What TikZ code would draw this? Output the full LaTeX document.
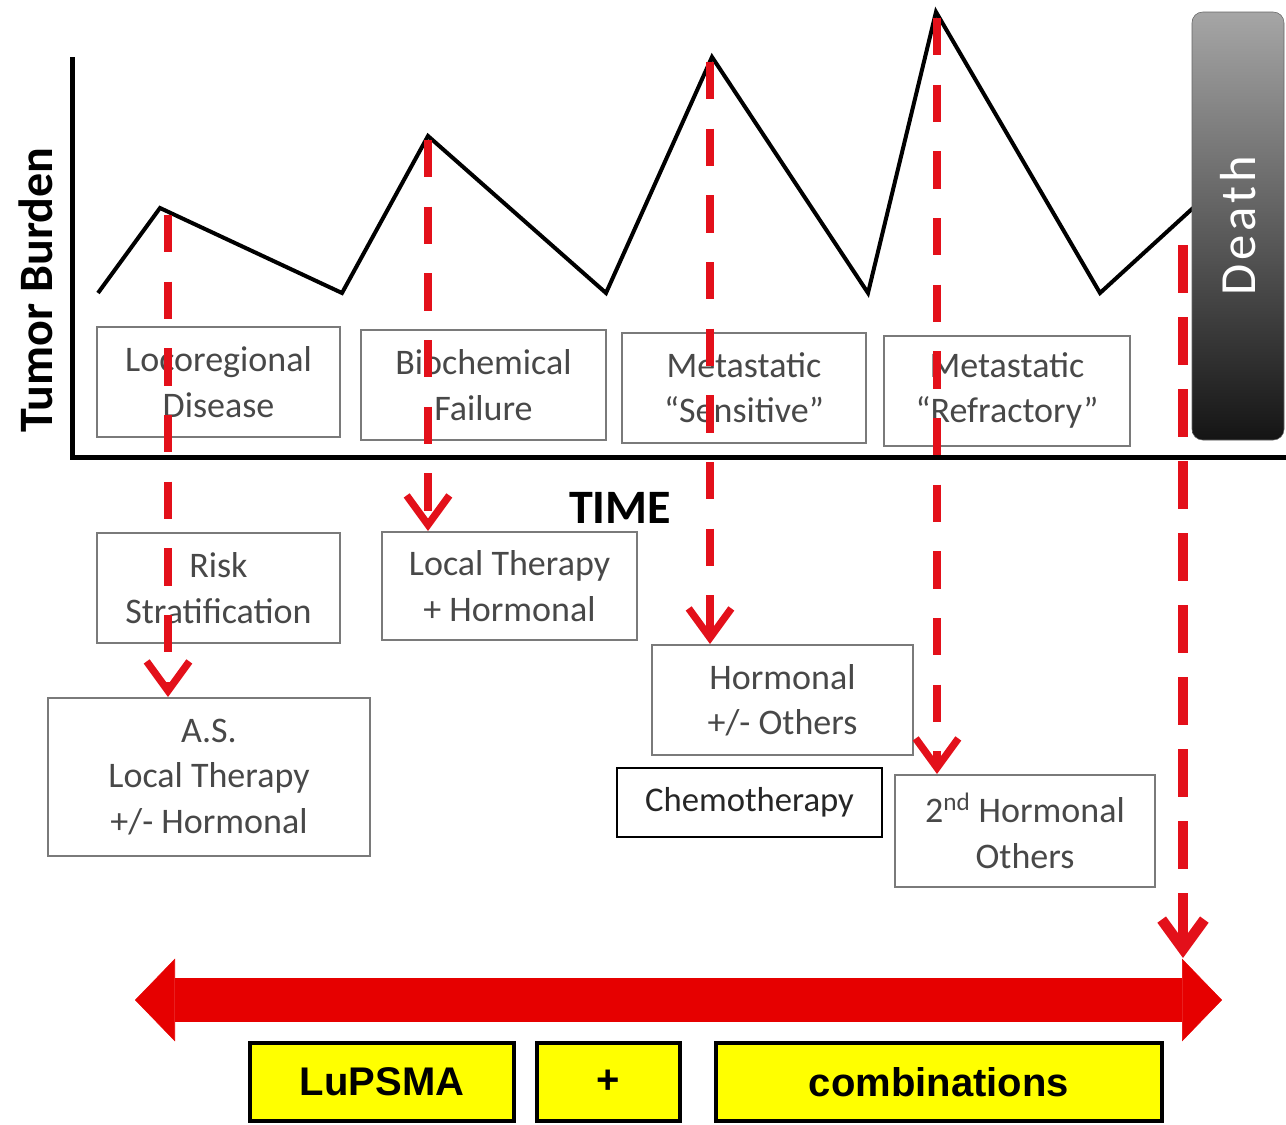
\documentclass[tikz,border=0pt]{standalone}
\usepackage{fontspec}
\setmainfont{Carlito}
\newfontfamily\arialfont{Liberation Sans}
\usetikzlibrary{arrows.meta}

\definecolor{dashred}{HTML}{E3101A}
\definecolor{bigred}{HTML}{E60000}
\definecolor{boxgray}{HTML}{7A7A7A}
\definecolor{textgray}{HTML}{484848}
\definecolor{lupyellow}{HTML}{FFFF00}

\tikzset{
  stagebox/.style={draw=boxgray, line width=1.5pt, text=textgray, align=center, inner sep=0pt,
    font=\fontsize{27}{34}\selectfont},
  chemobox/.style={stagebox, draw=black, text=black!85},
  ybox/.style={draw=black, line width=3pt, fill=lupyellow, inner sep=0pt,
    minimum height=58.5pt, font=\arialfont\bfseries\fontsize{30}{30}\selectfont},
  redtip/.tip={Straight Barb[length=22pt,width=32pt]},
  treatline/.style={draw=dashred, line width=5.5pt, dash pattern=on 28pt off 22pt, -redtip},
  deathline/.style={draw=dashred, line width=8pt, dash pattern=on 36pt off 18pt, -redtip},
  burdenline/.style={line width=3pt, line join=miter},
  axisline/.style={line width=3.75pt},
}

\begin{document}
\begin{tikzpicture}[x=0.75pt,y=0.75pt,yscale=-1,xscale=1]
\useasboundingbox (0,0) rectangle (1286,1125);

%Axes
\coordinate (ytop) at (72,57);
\coordinate (origin) at (72,457);
\coordinate (xend) at (1286,457);
\draw[axisline] (ytop) -- (origin) -- (xend);

%Tumor burden curve
\draw[burdenline] (98,293) -- (160,208) -- (342,293) -- (428,136) -- (606,293) -- (712,57) -- (868,293) -- (936,12) -- (1100,293) -- (1193,208);

%Death
\node[draw=black!60, rounded corners=8pt, top color=black!35, bottom color=black!92, text=white,
  minimum width=69pt, minimum height=321pt, inner sep=0pt,
  font=\fontsize{38}{38}\selectfont\addfontfeature{LetterSpace=8}] (death) at (1238,226) {\rotatebox{90}{Death}};

% Text Node
\node[rotate=90, font=\bfseries\fontsize{36}{36}\selectfont] (burden) at (36,290) {Tumor Burden};
% Text Node
\node[font=\bfseries\fontsize{36}{36}\selectfont] (time) at (620,508) {TIME};

%Disease stages
\node[stagebox, minimum width=182pt, minimum height=82.5pt] (loco) at (218.5,382) {Locoregional\\Disease};
\node[stagebox, minimum width=184pt, minimum height=82.5pt] (bio) at (483.5,385) {Biochemical\\Failure};
\node[stagebox, minimum width=183pt, minimum height=82.5pt] (sens) at (744,388) {Metastatic\\“Sensitive”};
\node[stagebox, minimum width=184pt, minimum height=82.5pt] (refr) at (1007,390.5) {Metastatic\\“Refractory”};

%Treatments
\node[stagebox, minimum width=182pt, minimum height=82.5pt] (risk) at (218.5,588) {Risk\\Stratification};
\node[stagebox, minimum width=191pt, minimum height=81pt] (ltherapy) at (509.5,586) {Local Therapy\\+ Hormonal};
\node[stagebox, minimum width=241.5pt, minimum height=118.5pt] (as) at (209,777) {A.S.\\Local Therapy\\+/- Hormonal};
\node[stagebox, minimum width=196pt, minimum height=82.5pt] (horm) at (782.5,700) {Hormonal\\+/- Others};
\node[chemobox, font=\fontsize{26}{34}\selectfont, minimum width=199pt, minimum height=52pt] (chemo) at (749.5,802.5) {Chemotherapy};
\node[stagebox, minimum width=195pt, minimum height=84pt] (second) at (1025,831) {2\textsuperscript{nd} Hormonal\\Others};

%Dashed arrows
\coordinate (d1) at (168,215);
\coordinate (d2) at (428,140);
\coordinate (d3) at (710,62);
\coordinate (d4) at (937,18);
\coordinate (d5) at (1183,245);
\coordinate (d5end) at (1183,958);
\draw[treatline] (d1) -- (as.north -| d1);
\draw[treatline] (d2) -- (ltherapy.north -| d2);
\draw[treatline] (d3) -- (horm.north -| d3);
\draw[treatline] (d4) -- (second.north -| d4);
\draw[deathline] (d5) -- (d5end);

%Big arrow
\coordinate (la) at (135,1000);
\coordinate (ra) at (1222,1000);
\draw[draw=bigred, line width=33pt,
  {Triangle[length=30pt,width=62pt,line width=0.4pt]}-{Triangle[length=30pt,width=62pt,line width=0.4pt]}] (la) -- (ra);

%LuPSMA boxes
\node[ybox, minimum width=198pt] (lupsma) at (382,1082) {LuPSMA};
\node[ybox, minimum width=107pt] (plus) at (608.5,1082) {+};
\node[ybox, minimum width=334.5pt] (comb) at (939,1082) {combinations};

\end{tikzpicture}
\end{document}
